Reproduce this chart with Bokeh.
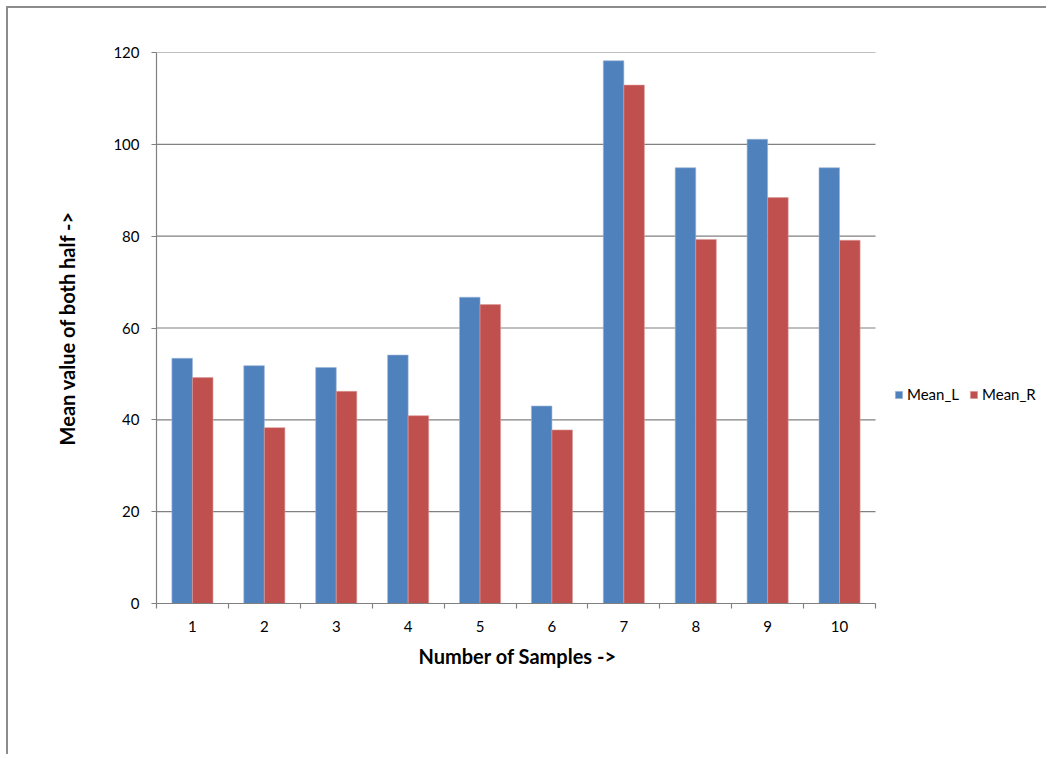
from bokeh.plotting import figure
from bokeh.models import FixedTicker, Legend, LegendItem, ColumnDataSource, Title
from bokeh.embed import file_html
from bokeh.resources import INLINE

samples = [1, 2, 3, 4, 5, 6, 7, 8, 9, 10]
tick_labels = ["1", "2", "3", "4", "5", "6", "7", "8", "9", "10"]
y_ticks = [0, 20, 40, 60, 80, 100, 120]
mean_l = [53.4, 51.8, 51.4, 54.1, 66.7, 43.0, 118.2, 94.9, 101.1, 94.9]
mean_r = [49.2, 38.3, 46.2, 40.9, 65.1, 37.8, 112.9, 79.3, 88.4, 79.1]

BLUE = "#4F81BD"
RED = "#C0504D"
GRID = "#808080"
FONT = "Lato"

W, H = 1040, 748
LEFT, TOP, BOTTOM = 148, 44, 153
AXIS_PX = 719.0                      # width of the category area in px
frame_w = W - LEFT
x_lo, x_hi = 0.5, 10.5
x_end = x_lo + (x_hi - x_lo) * frame_w / AXIS_PX  # room on the right for the legend

bar_w = 1 / 3.5
src = ColumnDataSource(dict(
    xl=[s - bar_w / 2 for s in samples],
    xr=[s + bar_w / 2 for s in samples],
    l=mean_l, r=mean_r,
))

p = figure(width=W, height=H, output_backend="svg", toolbar_location=None,
           x_range=(x_lo, x_end), y_range=(0, 120),
           min_border_left=LEFT, min_border_top=TOP, min_border_right=0,
           min_border_bottom=BOTTOM)
p.styles = {"border-top": "2px solid #8c8c8c", "border-left": "2px solid #8c8c8c",
            "margin-left": "6px", "margin-top": "6px"}
p.outline_line_color = None
p.background_fill_color = "white"
p.border_fill_color = "white"
p.xgrid.grid_line_color = None
p.ygrid.grid_line_color = None

# horizontal gridlines limited to the category area
p.segment(x0=[x_lo] * len(y_ticks), x1=[x_hi] * len(y_ticks), y0=y_ticks, y1=y_ticks,
          line_color=GRID, line_width=1.2)

rl = p.vbar(x="xl", top="l", width=bar_w, source=src, fill_color=BLUE,
            line_color="#9ab5d9", line_width=0.6)
rr = p.vbar(x="xr", top="r", width=bar_w, source=src, fill_color=RED,
            line_color="#dc9a98", line_width=0.6)

# x axis
p.xaxis.ticker = FixedTicker(ticks=samples,
                             minor_ticks=[s + 0.5 for s in [0] + samples])
p.xaxis.bounds = (x_lo, x_hi)
p.xaxis.major_label_overrides = {s: t for s, t in zip(samples, tick_labels)}
p.xaxis.major_tick_line_color = None
p.xaxis.major_tick_out = 5
p.xaxis.major_tick_in = 0
p.xaxis.minor_tick_line_color = GRID
p.xaxis.minor_tick_line_width = 1.2
p.xaxis.minor_tick_out = 5
p.xaxis.minor_tick_in = 0
p.xaxis.axis_line_color = GRID
p.xaxis.axis_line_width = 1.2
p.xaxis.major_label_standoff = 12

# y axis
p.yaxis.ticker = FixedTicker(ticks=y_ticks)
p.yaxis.major_tick_line_color = GRID
p.yaxis.major_tick_line_width = 1.2
p.yaxis.major_tick_out = 5
p.yaxis.major_tick_in = 0
p.yaxis.minor_tick_line_color = None
p.yaxis.axis_line_color = GRID
p.yaxis.axis_line_width = 1.2
p.yaxis.major_label_standoff = 12
p.yaxis.axis_label = "Mean value of both half ->"
p.yaxis.axis_label_standoff = 31

for ax in (p.xaxis[0], p.yaxis[0]):
    ax.major_label_text_font = FONT
    ax.major_label_text_font_size = "15px"
    ax.major_label_text_color = "black"
    ax.axis_label_text_font = FONT
    ax.axis_label_text_font_size = "20px"
    ax.axis_label_text_font_style = "bold"
    ax.axis_label_text_color = "black"

# x axis title, centred under the category area
xt = Title(text="Number of Samples ->", align="left", offset=262, standoff=15,
           text_font=FONT, text_font_size="20px", text_font_style="bold",
           text_color="black")
p.add_layout(xt, "below")

legend = Legend(items=[LegendItem(label="Mean_L", renderers=[rl]),
                       LegendItem(label="Mean_R", renderers=[rr])],
                orientation="horizontal", location=(738, 200),
                glyph_width=9, glyph_height=9, label_standoff=4, spacing=10,
                padding=0, margin=0, border_line_color=None,
                background_fill_alpha=0,
                label_text_font=FONT, label_text_font_size="15px",
                label_text_color="black")
p.add_layout(legend, "center")

open("out.html", "w").write(file_html(p, INLINE))
